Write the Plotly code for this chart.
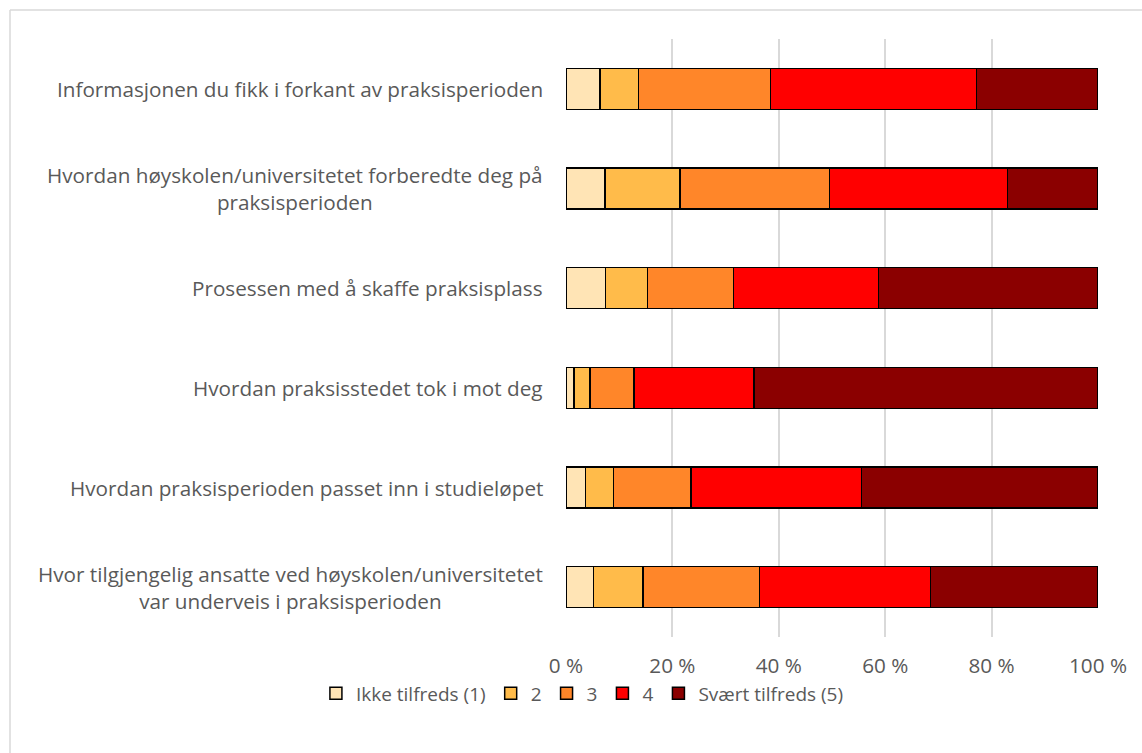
import plotly.graph_objects as go

# questions, top to bottom as they appear in the chart
questions = [
    "Informasjonen du fikk i forkant av praksisperioden",
    "Hvordan høyskolen/universitetet forberedte deg på<br>praksisperioden",
    "Prosessen med å skaffe praksisplass",
    "Hvordan praksisstedet tok i mot deg",
    "Hvordan praksisperioden passet inn i studieløpet",
    "Hvor tilgjengelig ansatte ved høyskolen/universitetet<br>var underveis i praksisperioden",
]

levels = ["Ikke tilfreds (1)", "2", "3", "4", "Svært tilfreds (5)"]
colors = ["#FFE4B5", "#FFBB4A", "#FF8629", "#FF0000", "#8B0000"]

# share (%) per level, same order as questions
ikke_tilfreds = [6.4, 7.3, 7.4, 1.5, 3.7, 5.2]
niva_2 = [7.2, 14.1, 7.9, 3.0, 5.2, 9.3]
niva_3 = [24.8, 28.1, 16.2, 8.3, 14.6, 21.9]
niva_4 = [38.8, 33.5, 27.2, 22.5, 32.0, 32.1]
svaert_tilfreds = [22.8, 17.0, 41.3, 64.7, 44.5, 31.5]

series = [ikke_tilfreds, niva_2, niva_3, niva_4, svaert_tilfreds]

W, H = 1142, 753
L, R, T, B = 566, 44, 39, 116
FONT = "'Open Sans', Calibri, sans-serif"
GREY = "#595959"
LABEL_SIZE = 20.7

fig = go.Figure()
for name, vals, col in zip(levels, series, colors):
    fig.add_bar(
        y=questions, x=vals, name=name, orientation="h",
        marker=dict(color=col, line=dict(color="black", width=1.5)),
    )

# category labels as annotations so the wrapped lines are centred
for q in questions:
    fig.add_annotation(
        x=0, xref="paper", y=q, yref="y", text=q, showarrow=False,
        xanchor="right", xshift=-21, align="center",
        font=dict(family=FONT, size=LABEL_SIZE, color=GREY),
    )

# chart border: only its top and left edges fall inside the picture
pw, ph = W - L - R, H - T - B
bx, by = (10 - L) / pw, (H - B - 10) / ph
fig.add_shape(type="line", xref="paper", yref="paper", x0=bx, x1=2, y0=by, y1=by,
              line=dict(color="#d9d9d9", width=1.5), layer="below")
fig.add_shape(type="line", xref="paper", yref="paper", x0=bx, x1=bx, y0=by, y1=-2,
              line=dict(color="#d9d9d9", width=1.5), layer="below")

fig.update_layout(
    width=W, height=H,
    margin=dict(l=L, r=R, t=T, b=B, autoexpand=False),
    barmode="stack", bargap=0.59,
    plot_bgcolor="white", paper_bgcolor="white",
    font=dict(family=FONT, size=LABEL_SIZE, color=GREY),
    legend=dict(
        orientation="h", traceorder="normal",
        xref="container", x=0.51, xanchor="center",
        yref="container", y=0.079, yanchor="middle",
        font=dict(family=FONT, size=19, color=GREY),
        itemwidth=30,
    ),
)
fig.update_xaxes(
    range=[0, 100], tickvals=[0, 20, 40, 60, 80, 100],
    ticktext=["0 %", "20 %", "40 %", "60 %", "80 %", "100 %"],
    showgrid=True, gridcolor="#d9d9d9", gridwidth=1.5,
    zeroline=False, ticks="", ticklabelstandoff=14,
)
fig.update_yaxes(
    autorange="reversed", showticklabels=False, showgrid=False,
    zeroline=False, ticks="",
)

fig.write_html("out.html", config={"displayModeBar": False},
               post_script="document.body.style.margin='0';")
